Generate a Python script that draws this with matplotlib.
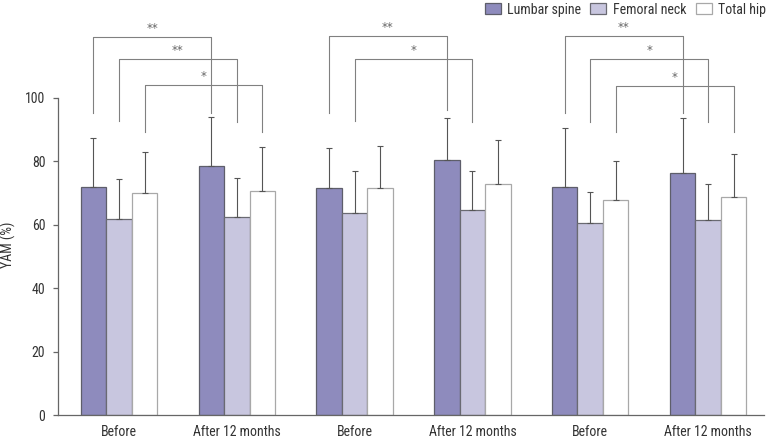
import numpy as np
import matplotlib
matplotlib.use('Agg')
import matplotlib.pyplot as plt
from matplotlib.patches import Patch
from matplotlib import font_manager

# pick a narrow family if one is around
names = set(f.name for f in font_manager.fontManager.ttflist)
font = 'DejaVu Sans'
for cand in ['Liberation Sans Narrow', 'Roboto Condensed', 'Open Sans Condensed', 'Noto Sans Condensed', 'Roboto', 'Liberation Sans']:
    if cand in names:
        font = cand
        break
plt.rcParams['font.family'] = [font, 'DejaVu Sans']
narrow = font in ('Liberation Sans Narrow', 'Roboto Condensed', 'Open Sans Condensed', 'Noto Sans Condensed')
fs = 10 if narrow else 8.8

# Data
groups = ['Before', 'After 12 months', 'Before', 'After 12 months', 'Before', 'After 12 months']
series = ['Lumbar spine', 'Femoral neck', 'Total hip']
lumbar = [71.8, 78.5, 71.6, 80.5, 71.9, 76.4]
femoral = [61.7, 62.6, 63.8, 64.6, 60.5, 61.6]
total = [69.9, 70.5, 71.7, 72.8, 67.9, 68.9]
lumbar_sd = [15.5, 15.4, 12.6, 13.2, 18.5, 17.2]
femoral_sd = [12.6, 12.1, 13.2, 12.3, 9.7, 11.3]
total_sd = [13.2, 14.0, 13.3, 14.0, 12.3, 13.3]

# significance brackets: (group a, group b, series, left leg end, right leg end, top, label)
brackets = [
    (0, 1, 0, 95.4, 95.4, 119.3, '**'),
    (0, 1, 1, 92.7, 92.4, 112.4, '**'),
    (0, 1, 2, 89.3, 89.3, 104.0, '*'),
    (2, 3, 0, 95.4, 96.2, 119.5, '**'),
    (2, 3, 1, 92.7, 92.4, 112.2, '*'),
    (4, 5, 0, 95.4, 95.4, 119.5, '**'),
    (4, 5, 1, 92.4, 92.4, 112.2, '*'),
    (4, 5, 2, 89.3, 89.3, 103.8, '*'),
]

colors = ['#8e8bbd', '#c8c6df', '#ffffff']
edges = ['#5e5e6a', '#6a6a72', '#a8a8a8']

fig = plt.figure(figsize=(7.7, 4.38), dpi=100)
ax = fig.add_axes([0.0753, 0.0525, 0.9169, 0.9475])

x = np.arange(len(groups))
w = 0.2165
vals = [lumbar, femoral, total]
sds = [lumbar_sd, femoral_sd, total_sd]
for j in range(3):
    xs = x + (j - 1) * w
    ax.bar(xs, vals[j], w, color=colors[j], edgecolor=edges[j], linewidth=0.9, zorder=2)
    ax.errorbar(xs, vals[j], yerr=[np.zeros(len(groups)), sds[j]], fmt='none',
                ecolor='#555555', elinewidth=0.8, capsize=2.3, capthick=0.8, zorder=3)

for a, b, j, ya, yb, top, lab in brackets:
    xa = x[a] + (j - 1) * w
    xb = x[b] + (j - 1) * w
    ax.plot([xa, xa, xb, xb], [ya, top, top, yb], color='#808080', lw=0.8, zorder=1)
    ax.text((xa + xb) / 2, top + 0.6, lab, ha='center', va='bottom',
            fontsize=8.5, color='#666666', family='DejaVu Sans')

ax.set_xlim(-0.518, 5.475)
ax.set_ylim(0, 130.9)
ax.set_yticks([0, 20, 40, 60, 80, 100])
ax.set_xticks(x)
ax.set_xticklabels(groups)
ax.spines['top'].set_visible(False)
ax.spines['right'].set_visible(False)
ax.spines['left'].set_bounds(0, 100)
for s in ['left', 'bottom']:
    ax.spines[s].set_color('#666666')
    ax.spines[s].set_linewidth(0.9)
ax.tick_params(axis='y', length=3.6, width=0.9, color='#666666', labelsize=fs,
               labelcolor='#333333', pad=5.5)
ax.tick_params(axis='x', length=0, labelsize=fs, labelcolor='#333333', pad=7)
ax.set_ylabel('YAM (%)', fontsize=fs, color='#333333')
ax.yaxis.set_label_coords(-0.06, 0.41)

handles = [Patch(facecolor=colors[j], edgecolor=edges[j], linewidth=0.9, label=series[j])
           for j in range(3)]
fig.legend(handles=handles, loc='center right', bbox_to_anchor=(0.995, 0.978), ncol=3,
           frameon=False, fontsize=fs, handlelength=1.15, handleheight=0.8,
           handletextpad=0.45, columnspacing=0.7, borderpad=0, borderaxespad=0,
           labelcolor='#333333')

fig.savefig('out.png', dpi=100)
